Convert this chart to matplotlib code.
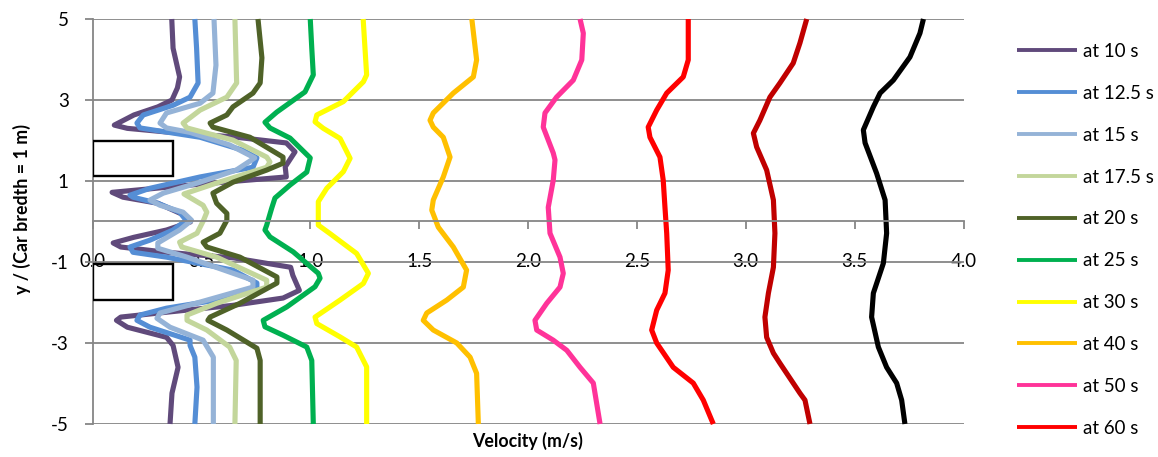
import matplotlib
matplotlib.use("Agg")
import matplotlib.pyplot as plt
from matplotlib.patches import Rectangle

plt.rcParams['font.family'] = ['Lato', 'DejaVu Sans']
plt.rcParams['axes.unicode_minus'] = False

# Velocity profiles across the wake (velocity in m/s, y in car breadths)
y_10s = [5, 4.28, 3.57, 3.30, 3.0, 2.83, 2.63, 2.38, 2.30, 2.21, 2.09, 1.94, 1.72, 1.35, 1.10, 0.92,
         0.72, 0.60, 0.45, 0.16, -0.01, -0.21, -0.39, -0.53, -0.63, -0.76, -0.90, -1.13, -1.33, -1.70,
         -1.89, -2.07, -2.24, -2.36, -2.44, -2.61, -2.86, -3.06, -3.60, -4.24, -5]
vel_10s = [0.364, 0.37, 0.40, 0.39, 0.365, 0.30, 0.19, 0.10, 0.16, 0.34, 0.645, 0.89, 0.93, 0.885, 0.89, 0.49,
           0.09, 0.14, 0.30, 0.42, 0.45, 0.34, 0.19, 0.095, 0.13, 0.34, 0.65, 0.91, 0.92, 0.95,
           0.875, 0.645, 0.34, 0.13, 0.11, 0.16, 0.34, 0.37, 0.393, 0.365, 0.356]

y_12_5s = [5, 4.28, 3.42, 3.07, 2.87, 2.63, 2.43, 2.31, 2.08, 1.76, 1.57, 1.34, 1.10, 0.82, 0.65, 0.60,
           0.45, 0.23, 0.03, -0.21, -0.46, -0.63, -0.76, -0.88, -1.20, -1.52, -1.62, -1.94, -2.14, -2.31,
           -2.44, -2.61, -2.93, -3.06, -3.35, -4.09, -5]
vel_12_5s = [0.47, 0.478, 0.485, 0.448, 0.37, 0.233, 0.204, 0.218, 0.494, 0.69, 0.755, 0.737, 0.494, 0.264, 0.172, 0.186,
             0.30, 0.40, 0.43, 0.37, 0.264, 0.172, 0.186, 0.34, 0.645, 0.755, 0.755, 0.57, 0.34, 0.218,
             0.204, 0.264, 0.448, 0.448, 0.47, 0.48, 0.47]

y_15s = [5, 3.86, 3.17, 2.92, 2.68, 2.43, 2.31, 2.2, 1.89, 1.57, 1.27, 0.97, 0.70, 0.53, 0.40, 0.23,
         0.03, -0.21, -0.53, -0.66, -0.88, -1.45, -1.62, -1.99, -2.26, -2.39, -2.61, -2.93, -3.35, -5]
vel_15s = [0.558, 0.567, 0.553, 0.494, 0.34, 0.31, 0.34, 0.448, 0.63, 0.745, 0.66, 0.494, 0.325, 0.264, 0.31, 0.416,
           0.455, 0.40, 0.30, 0.30, 0.434, 0.737, 0.737, 0.494, 0.31, 0.296, 0.356, 0.508, 0.555, 0.555]

y_17_5s = [5, 3.42, 3.07, 2.75, 2.43, 2.31, 2.01, 1.59, 1.47, 1.34, 0.95, 0.68, 0.40, 0.23, 0.03,
           -0.29, -0.51, -0.63, -0.88, -1.45, -1.62, -2.02, -2.31, -2.44, -2.68, -3.1, -3.43, -5]
vel_17_5s = [0.654, 0.662, 0.617, 0.494, 0.416, 0.434, 0.645, 0.80, 0.815, 0.80, 0.57, 0.42, 0.508, 0.525, 0.51,
             0.48, 0.40, 0.41, 0.57, 0.80, 0.80, 0.57, 0.434, 0.434, 0.525, 0.63, 0.66, 0.654]

y_20s = [5, 4.04, 3.42, 3.17, 2.83, 2.63, 2.43, 2.33, 2.08, 1.59, 1.44, 1.27, 0.97, 0.70, 0.45, 0.20, 0.03,
         -0.29, -0.51, -0.63, -0.88, -1.37, -1.52, -2.02, -2.36, -2.44, -2.68, -3.13, -3.43, -5]
vel_20s = [0.76, 0.778, 0.77, 0.737, 0.645, 0.617, 0.54, 0.553, 0.723, 0.875, 0.875, 0.80, 0.645, 0.553, 0.57, 0.617, 0.617,
           0.585, 0.508, 0.525, 0.677, 0.847, 0.847, 0.677, 0.54, 0.53, 0.617, 0.755, 0.77, 0.77]

y_25s = [5, 4.28, 3.62, 3.20, 2.70, 2.45, 2.31, 2.06, 1.57, 1.22, 0.90, 0.58, 0.33, -0.09, -0.21, -0.38,
         -0.75, -1.28, -1.40, -1.61, -2.11, -2.44, -2.60, -2.81, -3.10, -3.43, -5]
vel_25s = [1.0, 1.007, 1.014, 0.976, 0.846, 0.792, 0.815, 0.907, 1.0, 0.984, 0.907, 0.838, 0.823, 0.80, 0.792, 0.815,
           0.922, 1.037, 1.045, 1.022, 0.892, 0.784, 0.792, 0.876, 0.984, 1.007, 1.014]

y_30s = [5, 3.62, 3.45, 2.96, 2.63, 2.46, 2.30, 2.05, 1.56, 1.23, 0.82, 0.49, -0.09, -0.30, -0.79, -1.28,
         -1.53, -1.94, -2.36, -2.52, -2.85, -3.10, -3.59, -5]
vel_30s = [1.243, 1.259, 1.244, 1.152, 1.030, 1.022, 1.060, 1.137, 1.183, 1.152, 1.076, 1.037, 1.037, 1.091, 1.213, 1.267,
           1.244, 1.137, 1.022, 1.030, 1.137, 1.213, 1.259, 1.259]

y_40s = [5, 3.99, 3.57, 3.17, 2.68, 2.50, 2.33, 2.08, 1.59, 1.10, 0.53, 0.28, -0.14, -0.63, -1.20, -1.62,
         -1.94, -2.26, -2.44, -2.68, -3.0, -3.35, -3.75, -5]
vel_40s = [1.742, 1.764, 1.749, 1.657, 1.565, 1.55, 1.565, 1.611, 1.642, 1.611, 1.565, 1.558, 1.588, 1.657, 1.718, 1.703,
           1.627, 1.535, 1.519, 1.565, 1.673, 1.734, 1.764, 1.772]

y_50s = [5, 4.65, 3.99, 3.49, 3.07, 2.68, 2.33, 1.69, 1.52, 1.02, 0.35, -0.29, -0.88, -1.28, -1.62, -2.02,
         -2.44, -2.68, -2.93, -3.18, -3.60, -3.99, -5]
vel_50s = [2.239, 2.254, 2.247, 2.208, 2.131, 2.078, 2.070, 2.116, 2.124, 2.116, 2.093, 2.101, 2.147, 2.162, 2.147, 2.086,
           2.032, 2.040, 2.116, 2.178, 2.239, 2.300, 2.331]

y_60s = [5, 3.99, 3.57, 3.17, 2.75, 2.33, 2.08, 1.59, 1.02, 0.35, -0.29, -1.20, -1.77, -2.19, -2.68, -3.0,
         -3.60, -3.99, -4.41, -5]
vel_60s = [2.736, 2.736, 2.713, 2.637, 2.591, 2.552, 2.560, 2.606, 2.621, 2.629, 2.637, 2.644, 2.629, 2.591, 2.568, 2.591,
           2.667, 2.759, 2.805, 2.851]

y_late_a = [5, 4.41, 3.91, 3.42, 3.07, 2.50, 2.18, 1.84, 1.27, 0.53, -0.29, -1.13, -1.77, -2.36, -2.86, -3.25,
            -3.50, -4.24, -4.41, -5]
vel_late_a = [3.280, 3.249, 3.218, 3.157, 3.111, 3.065, 3.035, 3.050, 3.096, 3.127, 3.134, 3.127, 3.104, 3.088, 3.096, 3.127,
              3.157, 3.249, 3.272, 3.295]

y_late_b = [5, 4.65, 4.06, 3.49, 3.17, 2.83, 2.26, 1.94, 1.19, 0.53, -0.29, -1.03, -1.77, -2.36, -3.10, -3.60,
            -3.99, -4.41, -5]
vel_late_b = [3.816, 3.800, 3.754, 3.678, 3.617, 3.586, 3.540, 3.548, 3.601, 3.640, 3.647, 3.632, 3.586, 3.578, 3.609, 3.647,
              3.693, 3.716, 3.731]

labels = ["at 10 s", "at 12.5 s", "at 15 s", "at 17.5 s", "at 20 s", "at 25 s",
          "at 30 s", "at 40 s", "at 50 s", "at 60 s", None, None]
colors = ["#604A7B", "#558ED5", "#95B3D7", "#C3D69B", "#4F6228", "#00B050",
          "#FFFF00", "#FFC000", "#FF3399", "#FF0000", "#C00000", "#000000"]
profiles = [(vel_10s, y_10s), (vel_12_5s, y_12_5s), (vel_15s, y_15s), (vel_17_5s, y_17_5s),
            (vel_20s, y_20s), (vel_25s, y_25s), (vel_30s, y_30s), (vel_40s, y_40s),
            (vel_50s, y_50s), (vel_60s, y_60s), (vel_late_a, y_late_a), (vel_late_b, y_late_b)]

# Car outlines (velocity-axis extent, lower y, height)
car_x0, car_width = 0.0, 0.37
car_y0 = [1.12, -1.93]
car_height = 0.88

W, H = 1158, 457
fig = plt.figure(figsize=(W / 100, H / 100), dpi=100)
ax = fig.add_axes([92.5 / W, 33 / H, (963.5 - 92.5) / W, (438 - 33) / H])

grid_c = "#868686"
ax.set_xlim(0, 4)
ax.set_ylim(-5, 5)
ax.set_yticks([-5, -3, -1, 1, 3, 5])
ax.set_xticks([0, 0.5, 1.0, 1.5, 2.0, 2.5, 3.0, 3.5, 4.0])
ax.set_xticklabels(["0.0", "0.5", "1.0", "1.5", "2.0", "2.5", "3.0", "3.5", "4.0"])
ax.yaxis.grid(True, color=grid_c, linewidth=1.3)
ax.set_axisbelow(True)

for s in ("top", "right"):
    ax.spines[s].set_visible(False)
ax.spines["left"].set_color(grid_c)
ax.spines["left"].set_linewidth(1.3)
ax.spines["bottom"].set_color(grid_c)
ax.spines["bottom"].set_linewidth(1.3)
ax.spines["bottom"].set_position(("data", 0))

ax.tick_params(axis="x", direction="out", length=6, width=1.3, color=grid_c,
               labelsize=13.5, pad=17)
ax.tick_params(axis="y", direction="out", length=6, width=1.3, color=grid_c,
               labelsize=13.5, pad=11)

for (v, y), c, lab in zip(profiles, colors, labels):
    ax.plot(v, y, color=c, linewidth=3.7, label=lab, solid_joinstyle="round",
            solid_capstyle="butt", clip_on=False)

for y0 in car_y0:
    ax.add_patch(Rectangle((car_x0, y0), car_width, car_height, fill=False,
                           edgecolor="black", linewidth=1.7, zorder=5))

ax.set_xlabel("Velocity (m/s)", fontsize=12.8, fontweight="bold")
ax.xaxis.set_label_coords(0.5, -0.02)
ax.xaxis.label.set_verticalalignment("top")
ax.set_ylabel("y / (Car bredth = 1 m)", fontsize=12.8, fontweight="bold")
ax.yaxis.set_label_coords(-0.071, 0.532)

handles, labs = ax.get_legend_handles_labels()
leg = fig.legend(handles, labs, loc="upper left", bbox_to_anchor=(1017 / W, 1 - 43 / H),
                 frameon=False, fontsize=13.5, handlelength=3.2, handletextpad=0.3,
                 labelspacing=1.325, borderpad=0, borderaxespad=0)
for ln in leg.get_lines():
    ln.set_linewidth(2.8)

fig.savefig("out.png", dpi=100)
